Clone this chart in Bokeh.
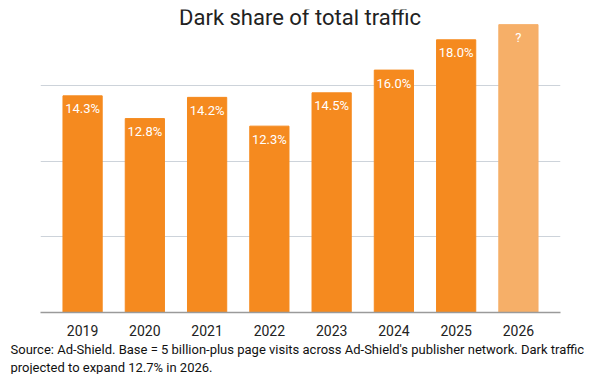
from bokeh.plotting import figure
from bokeh.models import FactorRange, Range1d, FixedTicker, Label, ColumnDataSource, Title
from bokeh.core.properties import value
from bokeh.embed import file_html
from bokeh.resources import INLINE

years = ["2019", "2020", "2021", "2022", "2023", "2024", "2025", "2026"]
shares = [14.3, 12.8, 14.2, 12.3, 14.5, 16.0, 18.0, 19.0]
bar_labels = ["14.3%", "12.8%", "14.2%", "12.3%", "14.5%", "16.0%", "18.0%", "?"]
bar_colors = ["#F58A1F"] * 7 + ["#F6AF68"]
grid_ticks = [5, 10, 15]
title_text = "Dark share of total traffic"
source_line1 = "Source: Ad-Shield. Base = 5 billion-plus page visits across Ad-Shield's publisher network. Dark traffic"
source_line2 = "projected to expand 12.7% in 2026."

src = ColumnDataSource(dict(x=years, top=shares, label=bar_labels, color=bar_colors))

p = figure(width=584, height=374, output_backend="svg", toolbar_location=None,
           x_range=FactorRange(*years, range_padding=0.044),
           y_range=Range1d(0, 20),
           min_border_left=40, min_border_right=24, min_border_top=9, min_border_bottom=59)
p.outline_line_color = None
p.background_fill_color = "white"
p.border_fill_color = "white"

p.vbar(x="x", top="top", width=0.63, color="color", source=src)
p.text(x="x", y="top", text="label", source=src, text_color="white",
       text_font=value("Roboto"), text_font_size="13px", text_align="center",
       text_baseline="middle", y_offset=13)

p.yaxis.visible = False
p.ygrid.ticker = FixedTicker(ticks=grid_ticks)
p.ygrid.grid_line_color = "#CDD3DA"
p.ygrid.grid_line_width = 1
p.xgrid.visible = False

ax = p.xaxis[0]
ax.axis_line_color = "#9A9A9A"
ax.axis_line_width = 1.5
ax.major_tick_line_color = None
ax.minor_tick_line_color = None
ax.major_label_text_font = "Roboto"
ax.major_label_text_font_size = "14px"
ax.major_label_text_color = "#222222"
ax.major_label_standoff = 6

p.add_layout(Label(x=259.5, y=295, x_units="screen", y_units="screen", text=title_text,
                   text_font="Roboto", text_font_size="22px", text_color="#222222",
                   text_align="center", text_baseline="middle"))
p.add_layout(Title(text=source_line1, align="left", offset=-30, standoff=2,
                   text_font="Roboto", text_font_size="13px", text_color="#111111",
                   text_font_style="normal"), "below")
p.add_layout(Title(text=source_line2, align="left", offset=-30, standoff=0,
                   text_font="Roboto", text_font_size="13px", text_color="#111111",
                   text_font_style="normal"), "below")

open("out.html", "w").write(file_html(p, INLINE))
